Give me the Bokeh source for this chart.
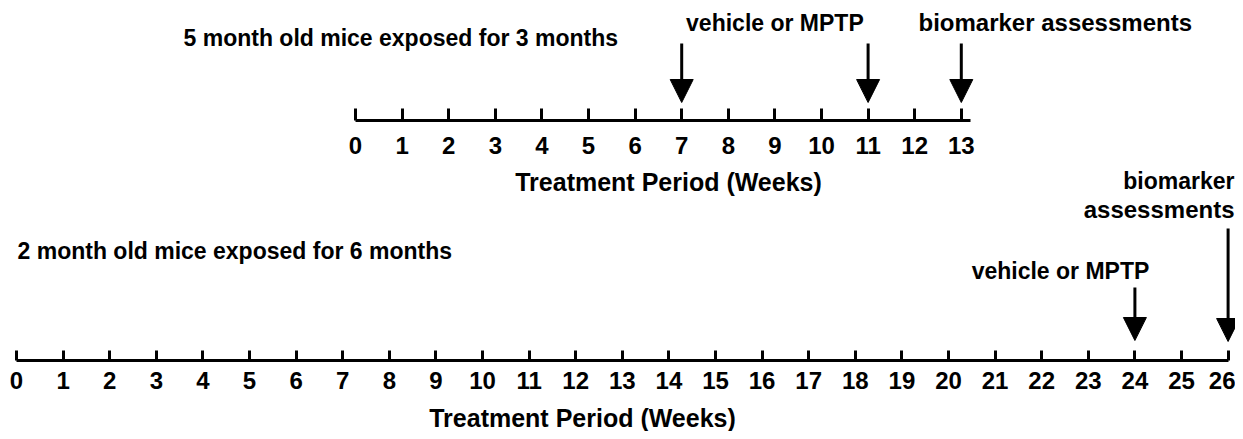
from bokeh.plotting import figure
from bokeh.models import Range1d, LinearAxis, FixedTicker, Arrow, NormalHead, Label
from bokeh.layouts import column
from bokeh.embed import file_html
from bokeh.resources import INLINE

# ---------------- data ----------------
top_weeks = list(range(0, 14))
bottom_weeks = list(range(0, 27))
top_treatment_weeks = [7, 11]
top_assessment_weeks = [13]
bottom_treatment_weeks = [24]
bottom_assessment_weeks = [26]
top_group = "5 month old mice exposed for 3 months"
bottom_group = "2 month old mice exposed for 6 months"
treatment_label = "vehicle or MPTP"
assessment_words = ["biomarker", "assessments"]
axis_title = "Treatment Period (Weeks)"

# ---------------- layout ----------------
W = 1235
PX = 46.6            # pixels per week
TOP_ORIGIN = 355     # px of week 0 (top timeline)
BOT_ORIGIN = 16      # px of week 0 (bottom timeline)
FONT = "Liberation Sans"
SHIFT = 8            # baseline correction for labels

A_FRAME, A_PANEL = 120, 45          # top timeline axis at y=120
B_FRAME, B_PANEL = 195, 41          # bottom timeline axis at y=360
C_H = 431 - (A_FRAME + A_PANEL) - (B_FRAME + B_PANEL)
B_AXIS = A_FRAME + A_PANEL + B_FRAME


def wk(px, origin):
    """convert a pixel offset to weeks for label anchors"""
    return (px - origin) / PX


def make_fig(height, frame_h, origin, bottom_border):
    p = figure(width=W, height=height,
               x_range=Range1d(-origin / PX, (W - origin) / PX),
               y_range=Range1d(0, frame_h),
               x_axis_location=None, y_axis_location=None,
               toolbar_location=None, output_backend="svg",
               min_border_left=0, min_border_right=0,
               min_border_top=0, min_border_bottom=bottom_border)
    p.outline_line_color = None
    p.grid.visible = False
    p.background_fill_color = "white"
    p.border_fill_color = "white"
    return p


def add_axis(p, ticks, bounds, tick_len, standoff):
    ax = LinearAxis(ticker=FixedTicker(ticks=ticks), bounds=bounds,
                    axis_line_width=3, axis_line_color="black",
                    major_tick_line_width=3, major_tick_line_color="black",
                    major_tick_in=tick_len, major_tick_out=0,
                    minor_tick_line_color=None,
                    major_label_standoff=standoff,
                    axis_label_standoff=0,
                    major_label_text_font=FONT,
                    major_label_text_font_style="bold",
                    major_label_text_font_size="24px",
                    major_label_text_color="black")
    p.add_layout(ax, "below")


def add_arrow(p, w, y0, y1):
    p.add_layout(Arrow(end=NormalHead(size=23, fill_color="black",
                                      line_color="black", line_width=1),
                       x_start=w, y_start=y0, x_end=w, y_end=y1,
                       line_width=3, line_color="black"))


def add_text(p, x, y, text, align="left", size="23px"):
    p.add_layout(Label(x=x, y=y + SHIFT, text=text, text_align=align,
                       text_baseline="alphabetic", text_font=FONT,
                       text_font_style="bold", text_font_size=size,
                       text_color="black"))


# ---------------- top timeline ----------------
pA = make_fig(A_FRAME + A_PANEL, A_FRAME, TOP_ORIGIN, A_PANEL)
add_axis(pA, top_weeks, (0, 13.2), 12, 16)
for w in top_treatment_weeks + top_assessment_weeks:
    add_arrow(pA, w, 77, 18)
add_text(pA, wk(183, TOP_ORIGIN), A_FRAME - 45, top_group)
add_text(pA, sum(top_treatment_weeks) / len(top_treatment_weeks), A_FRAME - 30,
         treatment_label, align="center")
add_text(pA, wk(918, TOP_ORIGIN), A_FRAME - 30, " ".join(assessment_words),
         size="24px")

# ---------------- bottom timeline ----------------
pB = make_fig(B_FRAME + B_PANEL, B_FRAME, BOT_ORIGIN, B_PANEL)
add_axis(pB, bottom_weeks, (0, 26), 10, 11)
for w in bottom_treatment_weeks:
    add_arrow(pB, w, B_AXIS - 287, 20)
for w in bottom_assessment_weeks:
    add_arrow(pB, w, B_AXIS - 228, 19)
add_text(pB, wk(17, BOT_ORIGIN), B_AXIS - 258, bottom_group)
add_text(pB, wk(1060, BOT_ORIGIN), B_AXIS - 278, treatment_label, align="center")
add_text(pB, wk(1234, BOT_ORIGIN), B_AXIS - 188, assessment_words[0], align="right")
add_text(pB, wk(1234, BOT_ORIGIN), B_AXIS - 217, assessment_words[1], align="right",
         size="24px")
# title of the top timeline's axis (sits in the gap between the timelines)
add_text(pB, wk(668, BOT_ORIGIN), B_AXIS - 189, axis_title, align="center", size="25px")

# ---------------- bottom axis title strip ----------------
pC = make_fig(C_H, C_H, BOT_ORIGIN, 0)
add_text(pC, wk(582, BOT_ORIGIN), 431 - 425, axis_title, align="center", size="25px")

layout = column(pA, pB, pC, spacing=0)
open("out.html", "w").write(file_html(layout, INLINE))
